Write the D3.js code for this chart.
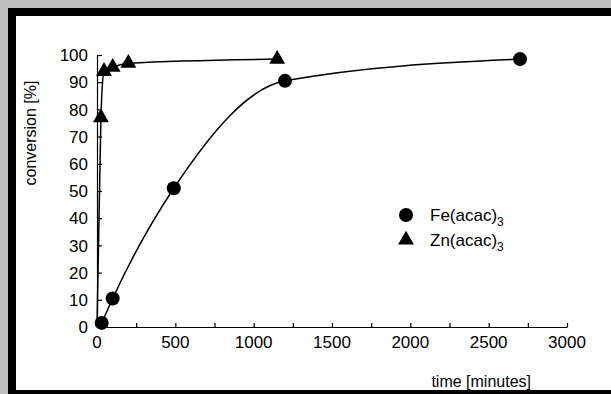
<!DOCTYPE html>
<html lang="en">
<head>
  <meta charset="utf-8">
  <script src="https://d3js.org/d3.v7.min.js"></script>
  <style>
    html, body { margin: 0; padding: 0; background: #c0c0c0; }
    svg { display: block; }
    text { font-family: Arial, 'Liberation Sans', sans-serif; fill: #000; }
    .axis path, .axis line { stroke: #000; stroke-width: 1.2; fill: none; }
  </style>
</head>
<body>
  <svg id="chart" width="611" height="394"></svg>
  <script>
    // Fe(acac)3 series
    const feTime = [30, 100, 490, 1200, 2700];
    const feConv = [1.5, 10.5, 51, 90.5, 98.5];
    // Zn(acac)3 series (first point is the curve origin, drawn without a marker)
    const znTime = [0, 25, 45, 100, 200, 1150];
    const znConv = [0, 77, 94, 95.5, 97, 98.5];
    const xTicks = [0, 500, 1000, 1500, 2000, 2500, 3000];
    const yTicks = [0, 10, 20, 30, 40, 50, 60, 70, 80, 90, 100];

    const svg = d3.select("#chart");

    // frame
    svg.append("rect").attr("x", 8).attr("y", 8).attr("width", 610).attr("height", 390).attr("fill", "#000");
    svg.append("rect").attr("x", 16).attr("y", 16).attr("width", 600).attr("height", 374).attr("fill", "#fff");

    const x = d3.scaleLinear().domain([0, 3000]).range([97, 567]);
    const y = d3.scaleLinear().domain([0, 100]).range([327, 55]);

    // x axis, ticks pointing inward
    svg.append("g").attr("class", "axis")
      .attr("transform", `translate(0,${y(0)})`)
      .call(d3.axisTop(x).tickValues(d3.range(0, 3001, 250)).tickSize(4).tickSizeOuter(0).tickFormat(""));
    svg.append("g").selectAll("text").data(xTicks).join("text")
      .attr("x", d => x(d)).attr("y", y(0) + 21)
      .attr("text-anchor", "middle").attr("font-size", 17)
      .text(d => d);

    // y axis, ticks pointing inward
    svg.append("g").attr("class", "axis")
      .attr("transform", `translate(${x(0)},0)`)
      .call(d3.axisRight(y).tickValues(yTicks).tickSize(5).tickSizeOuter(0).tickFormat(""));
    svg.append("g").selectAll("text").data(yTicks).join("text")
      .attr("x", x(0) - 9).attr("y", d => y(d)).attr("dy", "0.36em")
      .attr("text-anchor", "end").attr("font-size", 17)
      .text(d => d);

    // axis titles
    svg.append("text").attr("transform", "translate(36,133) rotate(-90)")
      .attr("text-anchor", "middle").attr("font-size", 16).text("conversion [%]");
    svg.append("text").attr("x", 531).attr("y", 387)
      .attr("text-anchor", "end").attr("font-size", 16).text("time [minutes]");

    const fe = feTime.map((t, i) => [t, feConv[i]]);
    const zn = znTime.map((t, i) => [t, znConv[i]]);

    const line = d3.line().x(d => x(d[0])).y(d => y(d[1])).curve(d3.curveMonotoneX);

    svg.append("path").datum(fe).attr("d", line)
      .attr("fill", "none").attr("stroke", "#000").attr("stroke-width", 1.5);
    svg.append("path").datum(zn).attr("d", line)
      .attr("fill", "none").attr("stroke", "#000").attr("stroke-width", 1.5);

    const tri = d3.symbol().type(d3.symbolTriangle).size(110);

    svg.append("g").selectAll("circle").data(fe).join("circle")
      .attr("cx", d => x(d[0])).attr("cy", d => y(d[1])).attr("r", 7).attr("fill", "#000");
    svg.append("g").selectAll("path").data(zn.slice(1)).join("path")
      .attr("transform", d => `translate(${x(d[0])},${y(d[1])})`)
      .attr("d", tri).attr("fill", "#000");

    // legend
    const legend = [
      { name: "Fe(acac)", kind: "circle", y: 215 },
      { name: "Zn(acac)", kind: "tri", y: 240 }
    ];
    const lg = svg.append("g");
    legend.forEach(l => {
      if (l.kind === "circle") {
        lg.append("circle").attr("cx", 406).attr("cy", l.y).attr("r", 7).attr("fill", "#000");
      } else {
        lg.append("path").attr("transform", `translate(406,${l.y})`).attr("d", tri).attr("fill", "#000");
      }
      const t = lg.append("text").attr("x", 430).attr("y", l.y + 6).attr("font-size", 17);
      t.append("tspan").text(l.name);
      t.append("tspan").attr("font-size", 12).attr("dy", 5).text("3");
    });
  </script>
</body>
</html>
